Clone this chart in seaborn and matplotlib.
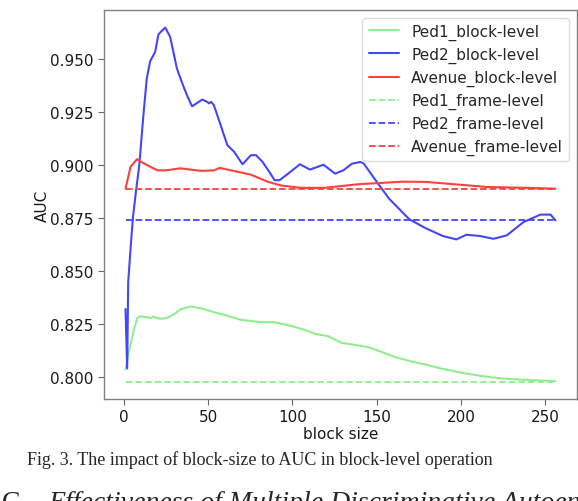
import numpy as np
import pandas as pd
import matplotlib
matplotlib.use("Agg")
import matplotlib.pyplot as plt
import seaborn as sns

# Ped1 block-level AUC
ped1_x = [1, 3, 5.6, 8, 9.6, 13.6, 15.6, 17.5, 21.5, 25.5, 29.5, 33.5, 39.5, 45.5, 53.4, 59.4,
          69.4, 81.3, 89.3, 99.3, 107.3, 113.2, 121.2, 129.2, 137.1, 145.1, 153.1, 161.1, 171,
          179, 189, 201, 213, 225, 239, 256]
ped1_auc = [0.8035, 0.8117, 0.8211, 0.8277, 0.8286, 0.8281, 0.8277, 0.8284, 0.8274, 0.8277,
            0.8294, 0.8318, 0.8332, 0.8324, 0.8305, 0.8293, 0.8269, 0.8258, 0.8258, 0.8240,
            0.8222, 0.8203, 0.8192, 0.8160, 0.8151, 0.8140, 0.8117, 0.8093, 0.8072, 0.8058,
            0.8038, 0.8019, 0.8003, 0.7992, 0.7986, 0.7980]

# Ped2 block-level AUC
ped2_x = [1, 2, 2.6, 4, 5.4, 7, 9.2, 11.6, 13.6, 15.6, 18.6, 20.5, 21.9, 24.6, 27.5, 31.5,
          35.1, 37.9, 40.5, 46.5, 49.5, 50.5, 51.8, 53.4, 57.4, 61.4, 65.4, 70.4, 75.4, 78.4,
          82.3, 86.3, 89.4, 92.4, 99.4, 104.4, 110.4, 118.4, 125.3, 130.3, 135.3, 140.3, 142.3,
          149.3, 157.3, 169.3, 179.2, 189.2, 197.2, 203.2, 211.2, 219.2, 227.1, 237.1, 247.1,
          253, 256]
ped2_auc = [0.8320, 0.8040, 0.8447, 0.8604, 0.8750, 0.8860, 0.9000, 0.9232, 0.9406, 0.9487,
            0.9532, 0.9613, 0.9626, 0.9646, 0.9602, 0.9453, 0.9374, 0.9319, 0.9275, 0.9307,
            0.9296, 0.9289, 0.9296, 0.9281, 0.9187, 0.9092, 0.9061, 0.9002, 0.9045, 0.9045,
            0.9013, 0.8966, 0.8927, 0.8927, 0.8970, 0.9002, 0.8977, 0.9000, 0.8958, 0.8974,
            0.9005, 0.9013, 0.9005, 0.8927, 0.8840, 0.8743, 0.8700, 0.8664, 0.8648, 0.8670,
            0.8664, 0.8651, 0.8667, 0.8730, 0.8765, 0.8765, 0.8738]

# Avenue block-level AUC
ave_x = [1, 4, 7.8, 11, 15.6, 19.7, 24.5, 33.5, 45.5, 53.3, 56.9, 61.6, 75.4, 85.6, 93.4,
         105, 119, 139, 165, 179, 199, 215, 239, 256]
ave_auc = [0.8887, 0.8990, 0.9026, 0.9010, 0.8991, 0.8974, 0.8973, 0.8983, 0.8971, 0.8973,
           0.8985, 0.8977, 0.8953, 0.8919, 0.8902, 0.8891, 0.8891, 0.8908, 0.8920, 0.8919,
           0.8906, 0.8895, 0.8891, 0.8887]

# frame-level AUC
block_range = [1, 256]
ped1_frame = 0.7978
ped2_frame = 0.8738
ave_frame = 0.8887

sns.set_style("ticks")
plt.rcParams["font.family"] = ["DejaVu Sans"]

fig = plt.figure(figsize=(5.78, 5.02), dpi=100)
ax = fig.add_axes([104 / 578, 102 / 502, 473 / 578, 389 / 502])

green = "#90ee90"
blue = "#4545ff"
red = "#ff4040"

sns.lineplot(x=ped1_x, y=ped1_auc, color=green, lw=1.5, label="Ped1_block-level", ax=ax)
sns.lineplot(x=ped2_x, y=ped2_auc, color=blue, lw=1.5, label="Ped2_block-level", ax=ax)
sns.lineplot(x=ave_x, y=ave_auc, color=red, lw=1.5, label="Avenue_block-level", ax=ax)
sns.lineplot(x=block_range, y=[ped1_frame] * 2, color=green, lw=1.3, ls="--", label="Ped1_frame-level", ax=ax)
sns.lineplot(x=block_range, y=[ped2_frame] * 2, color=blue, lw=1.3, ls="--", label="Ped2_frame-level", ax=ax)
sns.lineplot(x=block_range, y=[ave_frame] * 2, color=red, lw=1.3, ls="--", label="Avenue_frame-level", ax=ax)

ax.set_xlim(-11.75, 268.75)
ax.set_ylim(0.7896, 0.9729)
ax.set_xticks([0, 50, 100, 150, 200, 250])
ax.set_yticks([0.800, 0.825, 0.850, 0.875, 0.900, 0.925, 0.950])
ax.set_yticklabels(["0.800", "0.825", "0.850", "0.875", "0.900", "0.925", "0.950"])
ax.tick_params(labelsize=11, color="0.4", length=4, labelcolor="0.1")
for s in ax.spines.values():
    s.set_color("0.5")
    s.set_linewidth(1.0)
ax.set_xlabel("block size", fontsize=11, labelpad=1, color="0.1")
ax.set_ylabel("AUC", fontsize=11, labelpad=0, color="0.1")

ax.legend(loc="upper right", fontsize=11, frameon=True, framealpha=0.9,
          edgecolor="0.85", borderpad=0.4, handlelength=2.0, labelspacing=0.45)

fig.text(27 / 578, 1 - 465 / 502, "Fig. 3. The impact of block-size to AUC in block-level operation",
         fontsize=13, family="Liberation Serif", va="baseline", ha="left")
fig.text(2 / 578, 1 - 510 / 502, "C.", fontsize=20, family="Liberation Serif",
         va="baseline", ha="left")
fig.text(48 / 578, 1 - 510 / 502, "Effectiveness of Multiple Discriminative Autoencoders",
         fontsize=20, family="Liberation Serif", style="italic", va="baseline", ha="left")

fig.savefig("out.png", dpi=100)
